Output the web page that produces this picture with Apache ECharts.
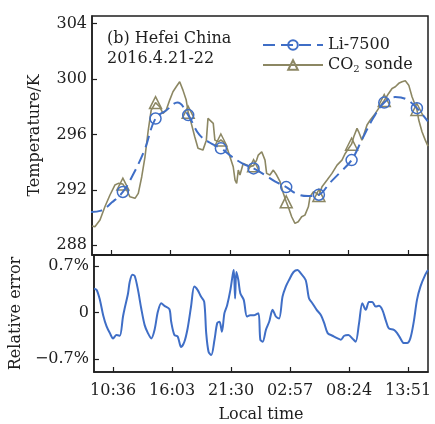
<!DOCTYPE html>
<html>
<head>
<meta charset="utf-8">
<script src="https://cdn.jsdelivr.net/npm/echarts@6/dist/echarts.min.js"></script>
<style>
  html, body { margin: 0; padding: 0; background: #fff; }
  #chart { width: 435px; height: 424px; }
</style>
</head>
<body>
<div id="chart"></div>
<script>
// time is minutes after 00:00 of 21 April
const tickTimes = [636, 963, 1290, 1617, 1944, 2271]
const tempTicks = [288, 292, 296, 300, 304]
const errTicks = [-0.7, 0, 0.7]
const markTimes = [700, 880, 1060, 1240, 1420, 1600, 1780, 1960, 2140, 2320]

const liTime = [520, 580, 640, 700, 760, 820, 880, 940, 1000, 1060, 1120, 1180, 1240, 1300, 1360, 1420,
  1480, 1540, 1600, 1660, 1720, 1780, 1840, 1900, 1960, 2020, 2080, 2140, 2200, 2260, 2320, 2380]
const liTemp = [290.4, 290.5, 291.1, 291.85, 293.2, 294.9, 297.15, 297.75, 298.3, 297.4, 296.0, 295.4, 295.0, 294.4, 293.9, 293.55,
  293.1, 292.6, 292.2, 291.7, 291.55, 291.65, 292.5, 293.3, 294.15, 295.7, 297.2, 298.3, 298.7, 298.55, 297.9, 296.95]

const co2Time = [530, 546, 574, 601, 629, 656, 675, 700, 721, 739, 767, 785, 804, 822, 840, 856, 880, 903, 921, 939,
  958, 976, 994, 1013, 1031, 1049, 1060, 1077, 1096, 1114, 1141, 1160, 1169, 1180, 1198, 1207, 1226, 1240, 1253, 1272,
  1290, 1308, 1318, 1327, 1336, 1345, 1363, 1382, 1400, 1420, 1437, 1446, 1465, 1483, 1492, 1510, 1529, 1547, 1566, 1584,
  1600, 1611, 1630, 1648, 1666, 1685, 1703, 1722, 1731, 1749, 1768, 1780, 1797, 1825, 1852, 1880, 1907, 1925, 1944, 1960,
  1972, 1990, 1999, 2017, 2027, 2045, 2063, 2072, 2091, 2109, 2128, 2140, 2164, 2183, 2201, 2220, 2238, 2256, 2275, 2293,
  2320, 2330, 2348, 2366, 2381]
const co2Temp = [289.39, 289.34, 289.82, 290.78, 291.63, 292.35, 292.47, 292.42, 291.99, 291.5,
  291.39, 291.75, 292.95, 294.39, 296.32, 297.76, 298.3, 298.0, 297.52, 297.76,
  298.48, 299.08, 299.44, 299.8, 299.2, 298.48, 297.6, 296.8, 295.83, 295.0,
  294.87, 295.59, 297.16, 297.16, 296.8, 295.59, 295.47, 295.6, 295.47, 295.11,
  294.39, 293.67, 292.71, 292.47, 293.43, 293.07, 293.91, 293.79, 293.67, 293.75,
  294.15, 294.51, 294.75, 294.15, 293.19, 293.07, 293.43, 293.07, 292.59, 291.75,
  291.14, 290.78, 290.06, 289.58, 289.7, 290.06, 290.18, 290.78, 291.5, 291.86,
  291.75, 291.6, 292.23, 292.71, 293.19, 293.79, 294.15, 294.63, 295.0, 295.3,
  295.83, 296.44, 296.19, 295.59, 295.96, 296.68, 297.04, 296.91, 297.52, 297.88,
  298.24, 298.45, 298.96, 299.32, 299.44, 299.69, 299.8, 299.87, 299.56, 298.72,
  297.8, 297.04, 296.19, 295.59, 295.16]

const errTime = [530, 545, 563, 581, 600, 618, 636, 655, 673, 691, 700, 719, 728, 743, 756, 774, 792, 811, 829, 848,
  866, 884, 903, 921, 948, 958, 976, 994, 1013, 1031, 1049, 1068, 1086, 1104, 1123, 1141, 1152, 1165, 1180, 1198,
  1213, 1226, 1239, 1253, 1268, 1286, 1299, 1305, 1312, 1319, 1330, 1341, 1360, 1378, 1396, 1418, 1441, 1452, 1465, 1483,
  1501, 1520, 1538, 1556, 1575, 1593, 1611, 1636, 1658, 1676, 1703, 1722, 1740, 1764, 1788, 1806, 1825, 1852, 1880, 1898,
  1917, 1940, 1962, 1980, 1999, 2017, 2036, 2054, 2072, 2091, 2109, 2128, 2146, 2164, 2192, 2210, 2228, 2247, 2265, 2283,
  2302, 2320, 2339, 2366, 2381]
const errVal = [0.36, 0.34, 0.19, -0.04, -0.21, -0.31, -0.39, -0.34, -0.35, -0.06,
  0.06, 0.29, 0.46, 0.57, 0.55, 0.34, 0.06, -0.19, -0.31, -0.39,
  -0.26, 0.01, 0.14, 0.10, 0.05, -0.14, -0.34, -0.36, -0.52, -0.44,
  -0.24, 0.09, 0.39, 0.34, 0.24, 0.16, -0.31, -0.59, -0.64, -0.41,
  -0.16, -0.14, -0.29, -0.01, 0.11, 0.34, 0.57, 0.64, 0.21, 0.61,
  0.49, 0.29, 0.19, -0.06, -0.04, -0.04, -0.01, -0.41, -0.44, -0.26,
  -0.14, 0.04, -0.06, -0.09, 0.24, 0.39, 0.49, 0.61, 0.64, 0.59,
  0.49, 0.21, 0.14, 0.04, -0.04, -0.16, -0.31, -0.35, -0.39, -0.41,
  -0.35, -0.34, -0.39, -0.44, -0.16, 0.14, 0.04, 0.16, 0.16, 0.09,
  0.10, 0.04, -0.11, -0.24, -0.26, -0.31, -0.39, -0.46, -0.46, -0.39,
  -0.14, 0.19, 0.39, 0.57, 0.64]

const blue = '#3f6ec6'
const olive = '#8c8763'
const ink = '#1e1e1e'
const font = 'DejaVu Serif'

function clock (v) {
  const m = Math.round(v) % 1440
  const h = Math.floor(m / 60)
  const mm = m % 60
  return (h < 10 ? '0' : '') + h + ':' + (mm < 10 ? '0' : '') + mm
}

function pairs (xs, ys) {
  return xs.map((x, i) => [x, ys[i]])
}

const markSize = (size) => (val) => markTimes.indexOf(val[0]) >= 0 ? size : 0

const baseX = {
  type: 'value',
  min: 530,
  max: 2381,
  axisLine: { show: true, onZero: false, lineStyle: { color: ink, width: 1.5 } },
  axisTick: { inside: true, length: 5, customValues: tickTimes, lineStyle: { color: ink, width: 1.2 } },
  splitLine: { show: false }
}

const chart = echarts.init(document.getElementById('chart'))
chart.setOption({
  animation: false,
  textStyle: { fontFamily: font, color: ink },
  grid: [
    { left: 92, top: 16, width: 336, height: 239, show: true, borderColor: ink, borderWidth: 1.5 },
    { left: 92, top: 255, width: 336, height: 117, show: true, borderColor: ink, borderWidth: 1.5 }
  ],
  xAxis: [
    Object.assign({}, baseX, { gridIndex: 0, axisLabel: { show: false } }),
    Object.assign({}, baseX, {
      gridIndex: 1,
      name: 'Local time',
      nameLocation: 'middle',
      nameGap: 35,
      nameTextStyle: { fontFamily: font, fontSize: 16, color: ink },
      axisLabel: {
        customValues: tickTimes,
        formatter: clock,
        margin: 11,
        fontFamily: font,
        fontSize: 16,
        color: ink
      }
    })
  ],
  yAxis: [
    {
      gridIndex: 0,
      type: 'value',
      min: 287.3,
      max: 304.55,
      name: 'Temperature/K',
      nameLocation: 'middle',
      nameGap: 49,
      nameTextStyle: { fontFamily: font, fontSize: 16, color: ink },
      axisLine: { show: true, lineStyle: { color: ink, width: 1.5 } },
      axisTick: { inside: true, length: 5, customValues: tempTicks, lineStyle: { color: ink, width: 1.2 } },
      axisLabel: { customValues: tempTicks, margin: 5, fontFamily: font, fontSize: 16, color: ink },
      splitLine: { show: false }
    },
    {
      gridIndex: 1,
      type: 'value',
      min: -0.896,
      max: 0.866,
      name: 'Relative error',
      nameLocation: 'middle',
      nameGap: 62,
      nameTextStyle: { fontFamily: font, fontSize: 16, color: ink },
      axisLine: { show: true, lineStyle: { color: ink, width: 1.5 } },
      axisTick: { inside: true, length: 5, customValues: errTicks, lineStyle: { color: ink, width: 1.2 } },
      axisLabel: {
        customValues: errTicks,
        margin: 5,
        fontFamily: font,
        fontSize: 16,
        color: ink,
        formatter: (v) => v === 0 ? '0' : (v < 0 ? '\u2212' : '') + Math.abs(v).toFixed(1) + '%'
      },
      splitLine: { show: false }
    }
  ],
  legend: {
    data: ['Li-7500', 'CO2 sonde'],
    orient: 'vertical',
    left: 257,
    top: 32,
    itemWidth: 60,
    itemHeight: 12,
    itemGap: 4,
    textStyle: {
      fontFamily: font,
      fontSize: 16,
      color: ink,
      rich: {
        n: { fontFamily: font, fontSize: 16, color: ink },
        s: { fontFamily: font, fontSize: 10, color: ink, padding: [9, 0, 0, 0] }
      }
    },
    formatter: (name) => name === 'CO2 sonde' ? '{n|CO}{s|2}{n| sonde}' : name
  },
  graphic: [{
    type: 'text',
    left: 107,
    top: 29,
    style: {
      text: '(b) Hefei China\n2016.4.21-22',
      font: '16px "DejaVu Serif"',
      lineHeight: 20,
      fill: ink
    }
  }],
  series: [
    {
      name: 'CO2 sonde',
      type: 'line',
      xAxisIndex: 0,
      yAxisIndex: 0,
      data: pairs(co2Time, co2Temp),
      symbol: 'triangle',
      symbolSize: markSize(12),
      lineStyle: { color: olive, width: 1.6 },
      itemStyle: { color: 'rgba(0,0,0,0)', borderColor: olive, borderWidth: 1.5 },
      z: 2
    },
    {
      name: 'Li-7500',
      type: 'line',
      xAxisIndex: 0,
      yAxisIndex: 0,
      data: pairs(liTime, liTemp),
      smooth: 0.4,
      symbol: 'circle',
      symbolSize: markSize(11),
      lineStyle: { color: blue, width: 2, type: [12, 6] },
      itemStyle: { color: 'rgba(0,0,0,0)', borderColor: blue, borderWidth: 1.5 },
      z: 3
    },
    {
      name: 'Relative error',
      type: 'line',
      xAxisIndex: 1,
      yAxisIndex: 1,
      data: pairs(errTime, errVal),
      smooth: 0.3,
      symbol: 'none',
      lineStyle: { color: blue, width: 2 }
    }
  ]
})
</script>
</body>
</html>
